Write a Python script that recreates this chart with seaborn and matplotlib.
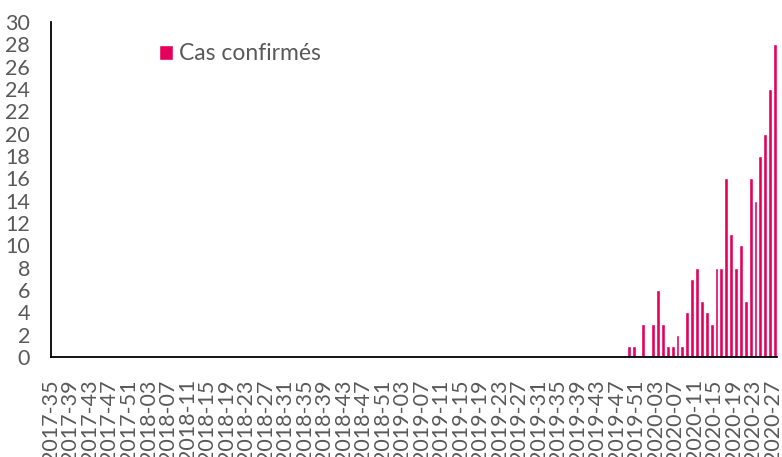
import matplotlib
matplotlib.use("Agg")
import matplotlib.pyplot as plt
import matplotlib.transforms as transforms
import seaborn as sns
import pandas as pd

# semaines ISO affichées : 2017-35 -> 2020-27
periodes = [(2017, 35, 52), (2018, 1, 52), (2019, 1, 52), (2020, 1, 27)]
semaines = [f"{an}-{s:02d}" for an, debut, fin in periodes for s in range(debut, fin + 1)]

# cas confirmés par semaine, à partir de 2019-49 (avant : 0)
debut_cas = "2019-49"
cas_depuis_debut = [1, 1, 0, 3, 0, 3, 6, 3, 1, 1, 2, 1, 4, 7, 8, 5, 4, 3, 8, 8,
                    16, 11, 8, 10, 5, 16, 14, 18, 20, 24, 28]

idx0 = semaines.index(debut_cas)
cas = [0] * idx0 + cas_depuis_debut
df = pd.DataFrame({"semaine": semaines, "cas": cas})

couleur = "#E5005C"
gris = "#595959"

sns.set_style("white")
plt.rcParams['font.family'] = ['Lato', 'DejaVu Sans']

fig, ax = plt.subplots(figsize=(7.82, 4.57), dpi=100)
fig.subplots_adjust(left=0.0652, right=0.9942, bottom=0.2188, top=0.9519)

sns.barplot(data=df, x="semaine", y="cas", color=couleur, saturation=1,
            width=0.8, label="Cas confirmés", ax=ax)

ax.set_xlim(-0.5, len(semaines) - 0.5)
ax.set_ylim(0, 30)
ax.set_yticks(range(0, 31, 2))

# graduations entre catégories, une étiquette toutes les 4 semaines
pos = list(range(0, len(semaines), 4))
ax.set_xticks([i - 0.5 for i in pos])
ax.set_xticklabels([semaines[i] for i in pos], rotation=90)
decal = transforms.ScaledTranslation(4.5 / 100, 0, fig.dpi_scale_trans)
for lbl in ax.get_xticklabels():
    lbl.set_transform(lbl.get_transform() + decal)

ax.tick_params(axis='x', length=6.5, width=1.2, color='black', pad=9.5,
               labelsize=15.5, labelcolor=gris)
ax.tick_params(axis='y', length=0, pad=15, labelsize=15.5, labelcolor=gris)
ax.set_xlabel("")
ax.set_ylabel("")

for s in ["top", "right"]:
    ax.spines[s].set_visible(False)
for s in ["left", "bottom"]:
    ax.spines[s].set_color("black")
    ax.spines[s].set_linewidth(1.3)

leg = ax.legend(loc="center left", bbox_to_anchor=(0.12, 0.905), frameon=False,
                handlelength=0.6, handleheight=0.6, handletextpad=0.3,
                fontsize=16.5, labelcolor=gris)

fig.savefig("out.png", dpi=100)
